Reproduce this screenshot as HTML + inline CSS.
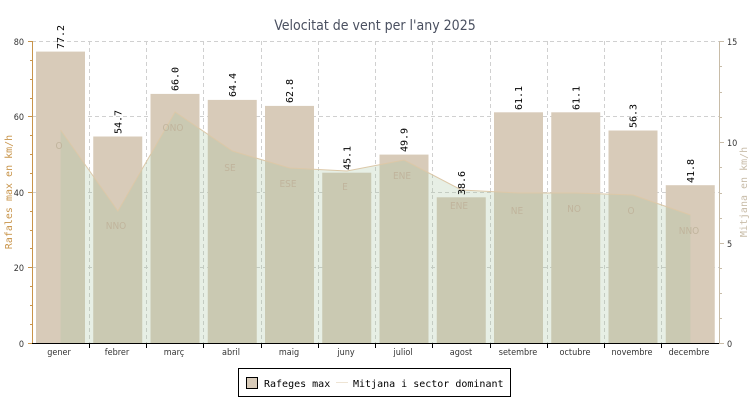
<!DOCTYPE html>
<html><head><meta charset="utf-8"><style>body{margin:0;background:#fff}svg{display:block}</style></head><body>
<svg width="750" height="400" xmlns="http://www.w3.org/2000/svg" font-family="'DejaVu Sans Mono','Liberation Mono',monospace">
<text x="375" y="30" text-anchor="middle" font-family="'DejaVu Sans Condensed','Liberation Sans',sans-serif" font-size="14" fill="#4a5060">Velocitat de vent per l'any 2025</text>
<g stroke="#d0d0d0" stroke-dasharray="4,3" stroke-width="1">
<line x1="32" y1="41.5" x2="719" y2="41.5"/><line x1="32" y1="116.5" x2="719" y2="116.5"/><line x1="32" y1="192.5" x2="719" y2="192.5"/><line x1="32" y1="267.5" x2="719" y2="267.5"/>
<line x1="89.5" y1="41" x2="89.5" y2="343"/><line x1="146.5" y1="41" x2="146.5" y2="343"/><line x1="203.5" y1="41" x2="203.5" y2="343"/><line x1="261.5" y1="41" x2="261.5" y2="343"/><line x1="318.5" y1="41" x2="318.5" y2="343"/><line x1="375.5" y1="41" x2="375.5" y2="343"/><line x1="432.5" y1="41" x2="432.5" y2="343"/><line x1="490.5" y1="41" x2="490.5" y2="343"/><line x1="547.5" y1="41" x2="547.5" y2="343"/><line x1="604.5" y1="41" x2="604.5" y2="343"/><line x1="661.5" y1="41" x2="661.5" y2="343"/>
</g>
<g fill="#d8cbb9">
<rect x="36" y="51.6" width="49" height="291.4"/><rect x="93.25" y="136.5" width="49" height="206.5"/><rect x="150.5" y="93.9" width="49" height="249.1"/><rect x="207.75" y="99.9" width="49" height="243.1"/><rect x="265" y="105.9" width="49" height="237.1"/><rect x="322.25" y="172.7" width="49" height="170.3"/><rect x="379.5" y="154.6" width="49" height="188.4"/><rect x="436.75" y="197.3" width="49" height="145.7"/><rect x="494" y="112.3" width="49" height="230.7"/><rect x="551.25" y="112.3" width="49" height="230.7"/><rect x="608.5" y="130.5" width="49" height="212.5"/><rect x="665.75" y="185.2" width="49" height="157.8"/>
</g>
<polygon fill="rgba(165,195,160,0.27)" points="60.6,343 60.6,130 117.9,211 175.1,112 232.4,151 289.6,168 346.9,171 404.1,160 461.4,190 518.6,193 575.9,193 633.1,195 690.4,215 690.4,343"/>
<polyline fill="none" stroke="#dcc8a8" stroke-width="1" points="60.6,130 117.9,211 175.1,112 232.4,151 289.6,168 346.9,171 404.1,160 461.4,190 518.6,193 575.9,193 633.1,195 690.4,215"/>
<g font-size="10" fill="#c0b49c" text-anchor="middle" font-family="'DejaVu Sans Condensed','Liberation Sans',sans-serif">
<text x="59" y="149">O</text><text x="116" y="229">NNO</text><text x="173" y="131">ONO</text><text x="230" y="171">SE</text><text x="288" y="187">ESE</text><text x="345" y="190">E</text><text x="402" y="179">ENE</text><text x="459" y="209">ENE</text><text x="517" y="214">NE</text><text x="574" y="212">NO</text><text x="631" y="214">O</text><text x="689" y="234">NNO</text>
</g>
<g font-size="10" fill="#000">
<text transform="translate(64,49) rotate(-90)">77.2</text>
<text transform="translate(121.3,134) rotate(-90)">54.7</text>
<text transform="translate(178.5,91) rotate(-90)">66.0</text>
<text transform="translate(235.8,97) rotate(-90)">64.4</text>
<text transform="translate(293,103) rotate(-90)">62.8</text>
<text transform="translate(350.3,170) rotate(-90)">45.1</text>
<text transform="translate(407.5,152) rotate(-90)">49.9</text>
<text transform="translate(464.8,195) rotate(-90)">38.6</text>
<text transform="translate(522,110) rotate(-90)">61.1</text>
<text transform="translate(579.3,110) rotate(-90)">61.1</text>
<text transform="translate(636.5,128) rotate(-90)">56.3</text>
<text transform="translate(693.8,183) rotate(-90)">41.8</text>
</g>
<line x1="32.5" y1="41" x2="32.5" y2="344" stroke="#c8944a"/>
<g stroke="#c8944a"><line x1="28" y1="41.5" x2="32" y2="41.5"/><line x1="28" y1="116.5" x2="32" y2="116.5"/><line x1="28" y1="192.5" x2="32" y2="192.5"/><line x1="28" y1="267.5" x2="32" y2="267.5"/><line x1="28" y1="343.5" x2="32" y2="343.5"/>
<line x1="30" y1="60.5" x2="32" y2="60.5"/><line x1="30" y1="79.5" x2="32" y2="79.5"/><line x1="30" y1="98.5" x2="32" y2="98.5"/><line x1="30" y1="135.5" x2="32" y2="135.5"/><line x1="30" y1="154.5" x2="32" y2="154.5"/><line x1="30" y1="173.5" x2="32" y2="173.5"/><line x1="30" y1="211.5" x2="32" y2="211.5"/><line x1="30" y1="230.5" x2="32" y2="230.5"/><line x1="30" y1="248.5" x2="32" y2="248.5"/><line x1="30" y1="286.5" x2="32" y2="286.5"/><line x1="30" y1="305.5" x2="32" y2="305.5"/><line x1="30" y1="324.5" x2="32" y2="324.5"/></g>
<line x1="719.5" y1="41" x2="719.5" y2="344" stroke="#c8bca8"/>
<g stroke="#c8bca8"><line x1="719" y1="41.5" x2="724" y2="41.5"/><line x1="719" y1="142.5" x2="724" y2="142.5"/><line x1="719" y1="243.5" x2="724" y2="243.5"/><line x1="719" y1="343.5" x2="724" y2="343.5"/>
<line x1="719" y1="66.5" x2="722" y2="66.5"/><line x1="719" y1="92.5" x2="722" y2="92.5"/><line x1="719" y1="117.5" x2="722" y2="117.5"/><line x1="719" y1="167.5" x2="722" y2="167.5"/><line x1="719" y1="193.5" x2="722" y2="193.5"/><line x1="719" y1="218.5" x2="722" y2="218.5"/><line x1="719" y1="268.5" x2="722" y2="268.5"/><line x1="719" y1="293.5" x2="722" y2="293.5"/><line x1="719" y1="318.5" x2="722" y2="318.5"/></g>
<line x1="32" y1="343.5" x2="719" y2="343.5" stroke="#000"/>
<g stroke="#000"><line x1="89.5" y1="343" x2="89.5" y2="348"/><line x1="146.5" y1="343" x2="146.5" y2="348"/><line x1="203.5" y1="343" x2="203.5" y2="348"/><line x1="261.5" y1="343" x2="261.5" y2="348"/><line x1="318.5" y1="343" x2="318.5" y2="348"/><line x1="375.5" y1="343" x2="375.5" y2="348"/><line x1="432.5" y1="343" x2="432.5" y2="348"/><line x1="490.5" y1="343" x2="490.5" y2="348"/><line x1="547.5" y1="343" x2="547.5" y2="348"/><line x1="604.5" y1="343" x2="604.5" y2="348"/><line x1="661.5" y1="343" x2="661.5" y2="348"/></g>
<g font-size="9" fill="#333" text-anchor="end" font-family="'DejaVu Sans Condensed','Liberation Sans',sans-serif">
<text x="24" y="45">80</text><text x="24" y="120">60</text><text x="24" y="196">40</text><text x="24" y="271">20</text><text x="24" y="347">0</text>
</g>
<g font-size="9" fill="#333" font-family="'DejaVu Sans Condensed','Liberation Sans',sans-serif">
<text x="727" y="45">15</text><text x="727" y="146">10</text><text x="727" y="247">5</text><text x="727" y="347">0</text>
</g>
<g font-size="9" fill="#333" text-anchor="middle" font-family="'DejaVu Sans Condensed','Liberation Sans',sans-serif">
<text x="59" y="355">gener</text><text x="117" y="355">febrer</text><text x="174" y="355">març</text><text x="231" y="355">abril</text><text x="289" y="355">maig</text><text x="346" y="355">juny</text><text x="403" y="355">juliol</text><text x="461" y="355">agost</text><text x="518" y="355">setembre</text><text x="575" y="355">octubre</text><text x="632" y="355">novembre</text><text x="689" y="355">decembre</text>
</g>
<text transform="translate(12,192) rotate(-90)" text-anchor="middle" font-size="10" fill="#c8944a">Rafales max en km/h</text>
<text transform="translate(747,192) rotate(-90)" text-anchor="middle" font-size="10" fill="#c8bca8">Mitjana en km/h</text>
<rect x="238.5" y="368.5" width="272" height="28" fill="#fff" stroke="#000"/>
<rect x="246.5" y="377.5" width="11" height="11" fill="#d8cbb9" stroke="#000"/>
<text x="264" y="387" font-size="10" fill="#000">Rafeges max</text>
<line x1="336" y1="382.5" x2="348" y2="382.5" stroke="#eee4d4"/>
<text x="353" y="387" font-size="10" fill="#000">Mitjana i sector dominant</text>
</svg>
</body></html>
